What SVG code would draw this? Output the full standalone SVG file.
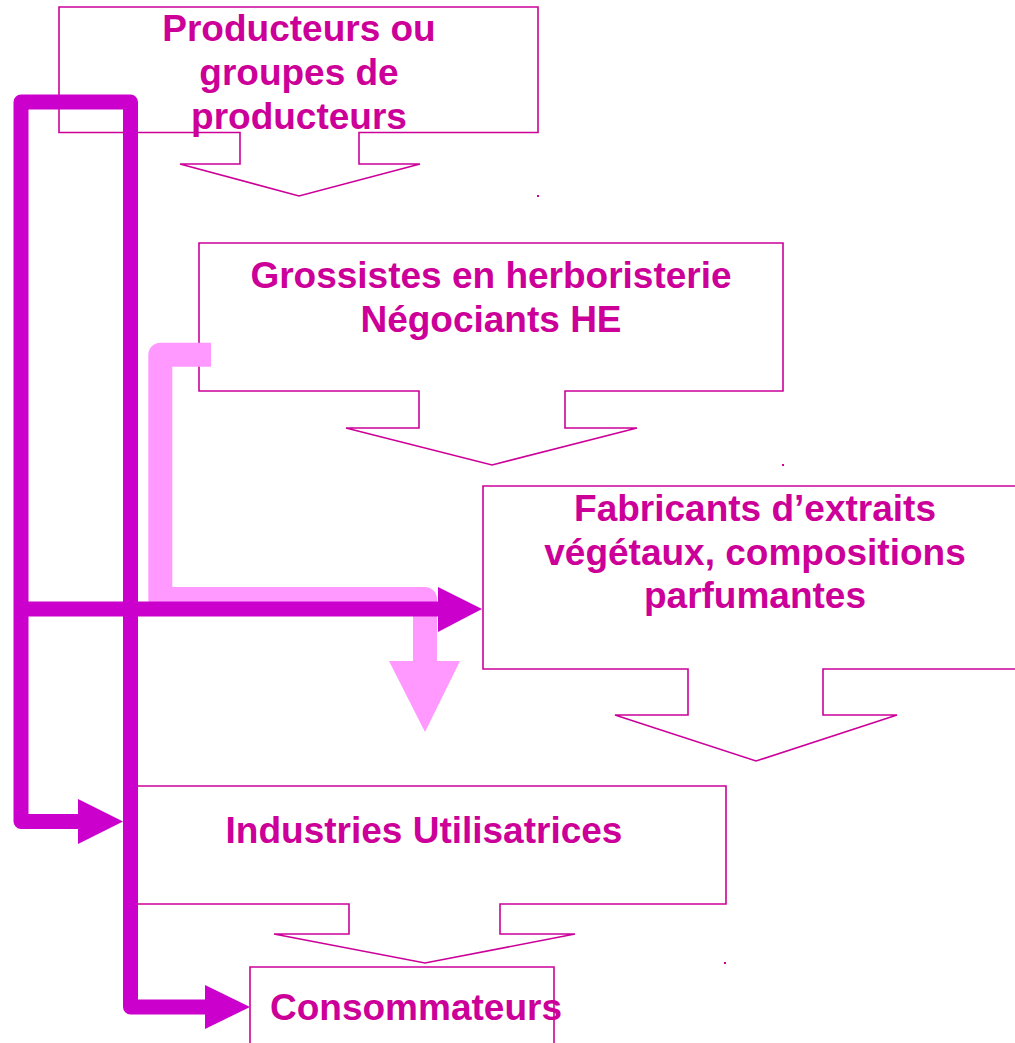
<svg xmlns="http://www.w3.org/2000/svg" width="1015" height="1043" viewBox="0 0 1015 1043">
<style>
.box{fill:#fff;stroke:#CC0099;stroke-width:1.6}
.lbl{font-family:"Liberation Sans",Arial,sans-serif;font-weight:bold;font-size:37px;fill:#CC0099;text-anchor:middle}
.dark{fill:none;stroke:#CC00CC;stroke-width:15;stroke-linejoin:round}
.darkh{fill:#CC00CC}
.pink{fill:none;stroke:#FF99FF;stroke-width:24;stroke-linejoin:round}
.pinkh{fill:#FF99FF}
.dot{fill:#CC0099}
</style>
<rect width="1015" height="1043" fill="#fff"/>
<g id="producteurs">
<path class="box" d="M59,7 H538 V132.5 H359 V164 H420 L299,196 L180,164 H240 V132.5 H59 Z"/>
<text class="lbl" x="299" y="41">Producteurs ou</text>
<text class="lbl" x="299" y="84.5">groupes de</text>
<text class="lbl" x="299" y="128.5">producteurs</text>
</g>
<g id="grossistes">
<path class="box" d="M199,243 H783 V391 H565 V428 H637 L492,465 L346,428 H419 V391 H199 Z"/>
<text class="lbl" x="491" y="288">Grossistes en herboristerie</text>
<text class="lbl" x="491" y="332">Négociants HE</text>
</g>
<g id="fabricants">
<path class="box" d="M483,486 H1030 V669 H823 V715 H897 L756,761 L615,715 H688 V669 H483 Z"/>
<text class="lbl" x="755" y="521">Fabricants d’extraits</text>
<text class="lbl" x="755" y="565">végétaux, compositions</text>
<text class="lbl" x="755" y="608">parfumantes</text>
</g>
<g id="industries">
<path class="box" d="M124,786 H726 V904 H500 V934 H575 L425,963 L274,934 H349 V904 H124 Z"/>
<text class="lbl" x="424" y="843">Industries Utilisatrices</text>
</g>
<g id="consommateurs">
<path class="box" d="M250,967 H554 V1060 H250 Z"/>
<text class="lbl" x="416" y="1020">Consommateurs</text>
</g>
<g id="marks">
<rect class="dot" x="537" y="195" width="2" height="2"/>
<rect class="dot" x="782" y="464" width="2" height="2"/>
<rect class="dot" x="724" y="962" width="2" height="2"/>
</g>
<g id="connectors">
<path class="pink" d="M211,354.7 H160.3 V599 H425 V661"/>
<polygon class="pinkh" points="389,661 460,661 425,732"/>
<path class="dark" d="M78,821.5 H21 V102 H130.5 V1007 H205"/>
<polygon class="darkh" points="78,799 123,821.5 78,844"/>
<polygon class="darkh" points="205,985 250,1007 205,1029"/>
<path class="dark" d="M21,609 H438"/>
<polygon class="darkh" points="438,587 482,609 438,632"/>
</g>
</svg>
